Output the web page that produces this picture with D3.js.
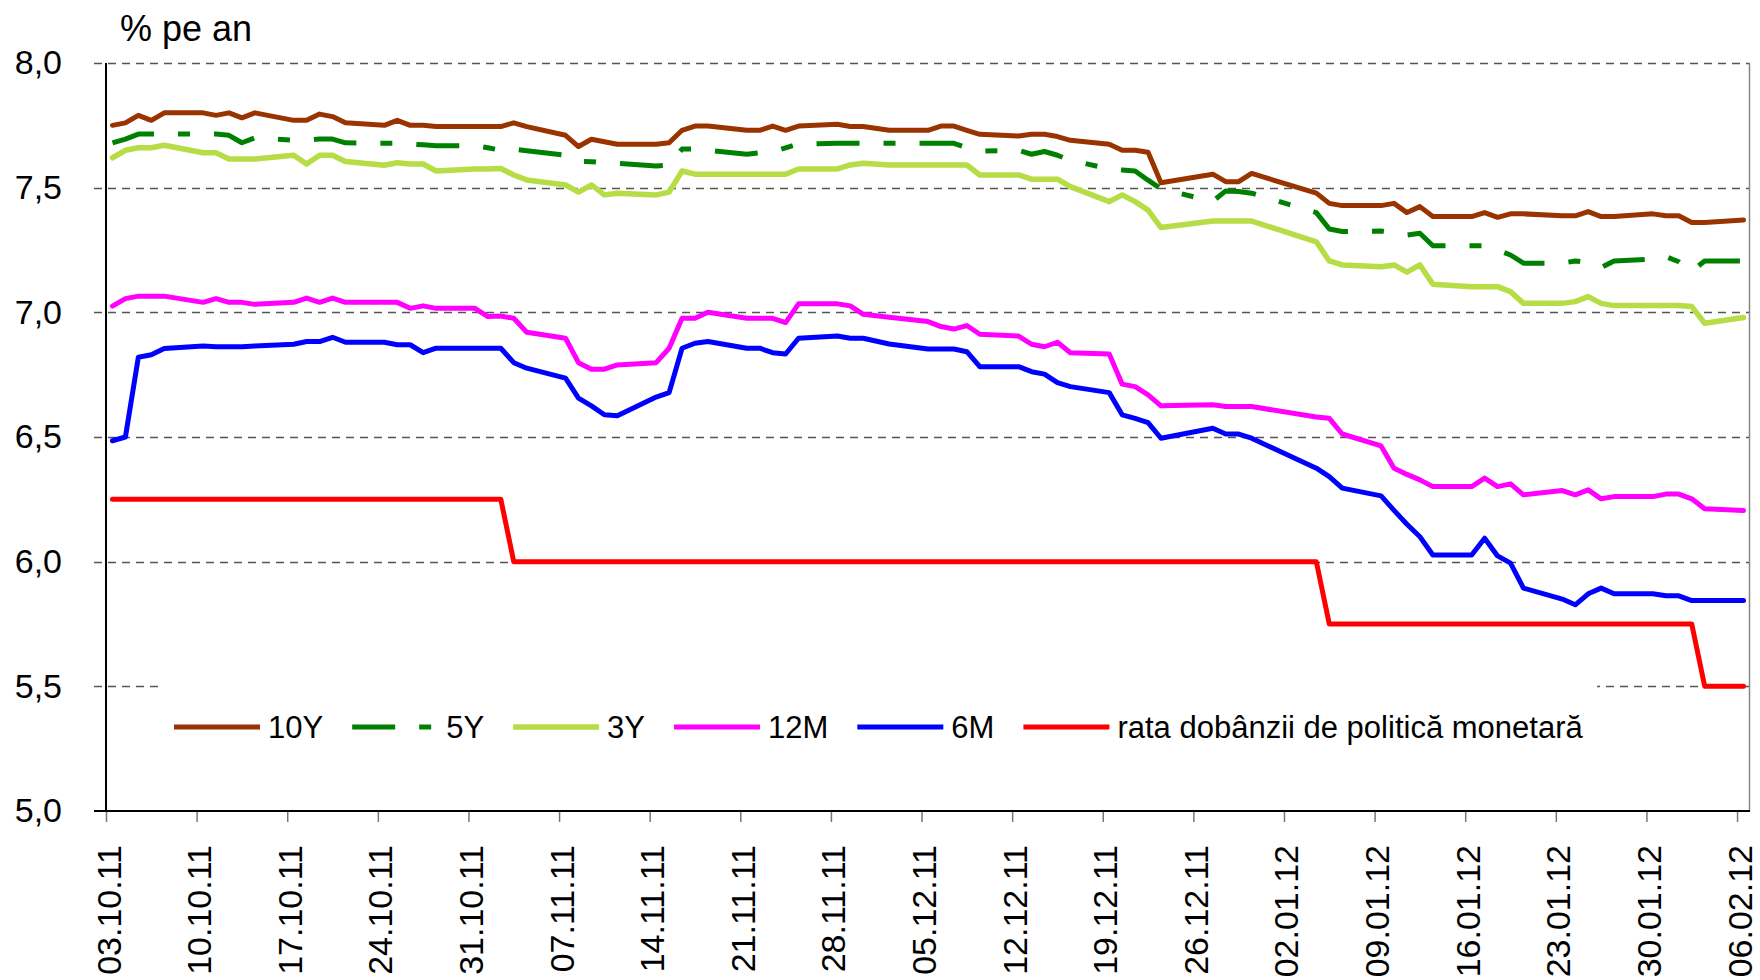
<!DOCTYPE html>
<html>
<head>
<meta charset="utf-8">
<script src="https://cdn.jsdelivr.net/npm/d3@7"></script>
<style>
  html, body { margin: 0; padding: 0; background: #fff; }
  svg text { font-family: "Liberation Sans", Arial, sans-serif; fill: #000; }
</style>
</head>
<body>
<svg id="chart" width="1760" height="980"></svg>
<script>
// ---------------- DATA ----------------
const dates = [
  "2011-10-03","2011-10-04","2011-10-05","2011-10-06","2011-10-07",
  "2011-10-10","2011-10-11","2011-10-12","2011-10-13","2011-10-14",
  "2011-10-17","2011-10-18","2011-10-19","2011-10-20","2011-10-21",
  "2011-10-24","2011-10-25","2011-10-26","2011-10-27","2011-10-28",
  "2011-10-31","2011-11-01","2011-11-02","2011-11-03","2011-11-04",
  "2011-11-07","2011-11-08","2011-11-09","2011-11-10","2011-11-11",
  "2011-11-14","2011-11-15","2011-11-16","2011-11-17","2011-11-18",
  "2011-11-21","2011-11-22","2011-11-23","2011-11-24","2011-11-25",
  "2011-11-28","2011-11-29","2011-11-30","2011-12-02",
  "2011-12-05","2011-12-06","2011-12-07","2011-12-08","2011-12-09",
  "2011-12-12","2011-12-13","2011-12-14","2011-12-15","2011-12-16",
  "2011-12-19","2011-12-20","2011-12-21","2011-12-22","2011-12-23",
  "2011-12-27","2011-12-28","2011-12-29","2011-12-30",
  "2012-01-04","2012-01-05","2012-01-06",
  "2012-01-09","2012-01-10","2012-01-11","2012-01-12","2012-01-13",
  "2012-01-16","2012-01-17","2012-01-18","2012-01-19","2012-01-20",
  "2012-01-23","2012-01-24","2012-01-25","2012-01-26","2012-01-27",
  "2012-01-30","2012-01-31","2012-02-01","2012-02-02","2012-02-03",
  "2012-02-06"
];

const y10 = [
  7.75,7.76,7.79,7.77,7.80, 7.80,7.79,7.80,7.78,7.80, 7.77,7.77,7.795,7.785,7.76,
  7.75,7.77,7.75,7.75,7.745, 7.745,7.745,7.745,7.76,7.745, 7.71,7.665,7.694,7.684,7.674,
  7.674,7.68,7.73,7.747,7.747, 7.73,7.73,7.747,7.73,7.747, 7.754,7.745,7.745,7.73,
  7.73,7.747,7.747,7.73,7.714, 7.707,7.714,7.714,7.705,7.69, 7.674,7.65,7.65,7.642,7.52,
  7.554,7.524,7.524,7.557, 7.478,7.437,7.428, 7.428,7.437,7.40,7.424,7.384,
  7.384,7.40,7.381,7.395,7.395, 7.387,7.387,7.404,7.384,7.384, 7.395,7.387,7.387,7.36,7.36,
  7.37
];
const y5 = [
  7.68,7.695,7.715,7.715,7.715, 7.715,7.715,7.71,7.68,7.70, 7.69,7.69,7.695,7.695,7.68,
  7.678,7.678,7.675,7.672,7.668, 7.668,7.66,7.65,7.655,7.648, 7.63,7.605,7.604,7.60,7.598,
  7.587,7.59,7.655,7.655,7.65, 7.634,7.64,7.644,7.66,7.675, 7.678,7.678,7.678,7.678,
  7.678,7.678,7.678,7.66,7.647, 7.65,7.634,7.645,7.63,7.61, 7.575,7.571,7.567,7.53,7.495,
  7.445,7.487,7.485,7.478, 7.40,7.334,7.324, 7.326,7.32,7.31,7.317,7.267,
  7.267,7.267,7.25,7.23,7.197, 7.197,7.206,7.20,7.18,7.206, 7.214,7.223,7.203,7.165,7.206,
  7.206
];
const y3 = [
  7.62,7.65,7.66,7.66,7.67, 7.64,7.64,7.615,7.615,7.615, 7.63,7.595,7.63,7.63,7.605,
  7.59,7.60,7.595,7.595,7.567, 7.575,7.575,7.577,7.551,7.531, 7.511,7.482,7.511,7.471,7.478,
  7.471,7.482,7.567,7.554,7.554, 7.554,7.554,7.554,7.554,7.575, 7.575,7.591,7.598,7.591,
  7.591,7.591,7.591,7.591,7.551, 7.551,7.534,7.534,7.534,7.504, 7.444,7.471,7.444,7.41,7.34,
  7.366,7.366,7.366,7.366, 7.283,7.206,7.19, 7.183,7.19,7.161,7.19,7.113,
  7.103,7.103,7.103,7.083,7.036, 7.036,7.043,7.063,7.036,7.027, 7.027,7.027,7.027,7.023,6.956,
  6.979
];
const m12 = [
  7.025,7.055,7.065,7.065,7.065, 7.04,7.055,7.04,7.04,7.032, 7.04,7.057,7.04,7.057,7.04,
  7.04,7.04,7.016,7.026,7.016, 7.016,6.983,6.985,6.976,6.92, 6.896,6.798,6.772,6.772,6.789,
  6.798,6.856,6.976,6.976,7.00, 6.976,6.976,6.976,6.959,7.034, 7.034,7.026,6.992,6.98,
  6.963,6.943,6.933,6.947,6.912, 6.905,6.872,6.862,6.88,6.838, 6.833,6.712,6.702,6.669,6.625,
  6.629,6.622,6.622,6.622, 6.58,6.575,6.512, 6.464,6.375,6.35,6.328,6.301,
  6.301,6.335,6.301,6.312,6.268, 6.285,6.268,6.288,6.252,6.261, 6.261,6.271,6.271,6.252,6.212,
  6.205
];
const m6 = [
  6.485,6.50,6.82,6.83,6.855, 6.865,6.862,6.862,6.862,6.865, 6.872,6.883,6.883,6.90,6.88,
  6.88,6.87,6.87,6.838,6.856, 6.856,6.856,6.856,6.798,6.776, 6.736,6.656,6.625,6.589,6.585,
  6.66,6.678,6.856,6.876,6.883, 6.856,6.856,6.838,6.833,6.896, 6.905,6.896,6.896,6.873,
  6.853,6.853,6.853,6.842,6.782, 6.782,6.762,6.752,6.718,6.702, 6.678,6.589,6.575,6.558,6.495,
  6.535,6.512,6.512,6.495, 6.375,6.341,6.295, 6.264,6.206,6.15,6.10,6.027,
  6.027,6.094,6.023,5.994,5.894, 5.85,5.827,5.871,5.894,5.871, 5.871,5.863,5.863,5.844,5.844,
  5.844
];
const policyRate = [
  6.25,6.25,6.25,6.25,6.25, 6.25,6.25,6.25,6.25,6.25, 6.25,6.25,6.25,6.25,6.25,
  6.25,6.25,6.25,6.25,6.25, 6.25,6.25,6.25,6.00,6.00, 6.00,6.00,6.00,6.00,6.00,
  6.00,6.00,6.00,6.00,6.00, 6.00,6.00,6.00,6.00,6.00, 6.00,6.00,6.00,6.00,
  6.00,6.00,6.00,6.00,6.00, 6.00,6.00,6.00,6.00,6.00, 6.00,6.00,6.00,6.00,6.00,
  6.00,6.00,6.00,6.00, 6.00,5.75,5.75, 5.75,5.75,5.75,5.75,5.75,
  5.75,5.75,5.75,5.75,5.75, 5.75,5.75,5.75,5.75,5.75, 5.75,5.75,5.75,5.75,5.50,
  5.50
];

const seriesNames = ["10Y", "5Y", "3Y", "12M", "6M", "rata dobânzii de politică monetară"];
const seriesValues = [y10, y5, y3, m12, m6, policyRate];
const yTickValues = [5.0, 5.5, 6.0, 6.5, 7.0, 7.5, 8.0];
const axisStart = "2011-10-03";
const axisEnd = "2012-02-07";
const unitLabel = "% pe an";

// ---------------- STYLES ----------------
const styles = [
  { color: "#993300", width: 5, dash: null },
  { color: "#008000", width: 5, dash: "43,24,12,24" },
  { color: "#b6dc46", width: 5.5, dash: null },
  { color: "#ff00ff", width: 5, dash: null },
  { color: "#0000ff", width: 5, dash: null },
  { color: "#ff0000", width: 5, dash: null }
];

// ---------------- CHART ----------------
(function () {
  const svg = d3.select("#chart");
  const parse = d3.utcParse("%Y-%m-%d");
  const pL = 106, pR = 1750, pT = 63, pB = 811;

  const x = d3.scaleUtc().domain([parse(axisStart), parse(axisEnd)]).range([pL, pR]);
  const y = d3.scaleLinear().domain([5, 8]).range([pB, pT]);

  const pts = dates.map(s => d3.utcHour.offset(parse(s), 12));

  // grid lines (dashed)
  svg.append("g").selectAll("line")
    .data(yTickValues.filter(v => v > 5))
    .join("line")
    .attr("x1", 94).attr("x2", pR)
    .attr("y1", d => Math.round(y(d)) + 0.5).attr("y2", d => Math.round(y(d)) + 0.5)
    .attr("stroke", "#555").attr("stroke-width", 1.6).attr("stroke-dasharray", "8,6");

  // right border
  svg.append("line").attr("x1", pR - 0.5).attr("x2", pR - 0.5)
    .attr("y1", pT).attr("y2", pB).attr("stroke", "#888").attr("stroke-width", 1.5);

  // x axis
  const xAxis = d3.axisBottom(x)
    .tickValues(d3.utcMonday.range(parse(axisStart), parse(axisEnd)))
    .tickFormat(d3.utcFormat("%d.%m.%y"))
    .tickSize(11).tickSizeOuter(0);
  const gx = svg.append("g").attr("transform", `translate(0,${pB})`).call(xAxis);
  gx.select(".domain").remove();
  gx.selectAll(".tick line").attr("stroke", "#777").attr("stroke-width", 1.5);
  gx.selectAll(".tick text")
    .attr("font-size", 34)
    .attr("text-anchor", "end")
    .attr("dy", null).attr("y", null)
    .attr("transform", "translate(14,34) rotate(-90)");
  svg.append("line").attr("x1", 94).attr("x2", pR).attr("y1", pB).attr("y2", pB)
    .attr("stroke", "#000").attr("stroke-width", 2);

  // y axis
  const yAxis = d3.axisLeft(y).tickValues(yTickValues)
    .tickFormat(d => d.toFixed(1).replace(".", ","))
    .tickSize(0).tickPadding(44);
  const gy = svg.append("g").attr("transform", `translate(${pL},0)`).call(yAxis);
  gy.select(".domain").remove();
  gy.selectAll(".tick text").attr("font-size", 34);
  svg.append("line").attr("x1", pL).attr("x2", pL).attr("y1", pT).attr("y2", pB)
    .attr("stroke", "#000").attr("stroke-width", 2);

  // unit label
  svg.append("text").attr("x", 120).attr("y", 41).attr("font-size", 36).text(unitLabel);

  // series lines
  const line = d3.line().x((d, i) => x(pts[i])).y(d => y(d));
  [5, 4, 3, 2, 1, 0].forEach(k => {
    const st = styles[k];
    svg.append("path")
      .datum(seriesValues[k])
      .attr("d", line)
      .attr("fill", "none")
      .attr("stroke", st.color)
      .attr("stroke-width", st.width)
      .attr("stroke-linejoin", "round")
      .attr("stroke-linecap", st.dash ? "butt" : "round")
      .attr("stroke-dasharray", st.dash);
  });

  // legend
  svg.append("rect").attr("x", 158).attr("y", 674).attr("width", 1597 - 158).attr("height", 100)
    .attr("fill", "#fff");
  const lg = svg.append("g");
  let cx = 174;
  const legY = 727;
  seriesNames.forEach((name, k) => {
    const st = styles[k];
    lg.append("line").attr("x1", cx).attr("x2", cx + 86).attr("y1", legY).attr("y2", legY)
      .attr("stroke", st.color).attr("stroke-width", st.width)
      .attr("stroke-linecap", "butt")
      .attr("stroke-dasharray", st.dash);
    const t = lg.append("text").attr("x", cx + 94).attr("y", legY + 11)
      .attr("font-size", 31).text(name);
    cx = cx + 94 + t.node().getComputedTextLength() + 29;
  });
})();
</script>
</body>
</html>
